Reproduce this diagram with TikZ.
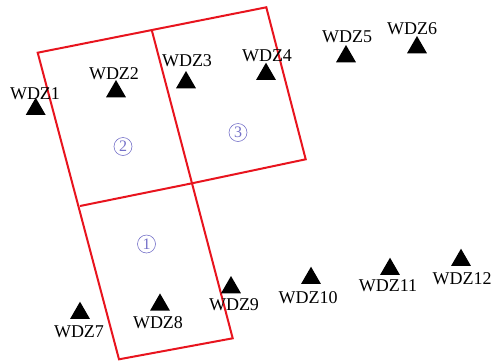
\documentclass[tikz,border=0pt]{standalone}
\usepackage{fontspec}
\setmainfont{Liberation Serif}
\usetikzlibrary{shapes.geometric}
\definecolor{cframe}{HTML}{E8141E}
\definecolor{cnum}{HTML}{7470C8}
\tikzset{
  every picture/.style={x=1pt, y=-1pt},
  station/.style={regular polygon, regular polygon sides=3, fill=black, inner sep=0pt, minimum size=23pt},
  stname/.style={anchor=base, inner sep=0pt, font=\fontsize{18}{18}\selectfont},
  frame/.style={draw=cframe, line width=2pt},
  blocknum/.style={circle, draw=cnum, text=cnum, line width=0.6pt, inner sep=0pt, minimum size=18pt, font=\fontsize{16}{16}\selectfont},
}

\begin{document}
\begin{tikzpicture}
  \useasboundingbox (0,0) rectangle (494,362);
  \coordinate (A) at (37.7,52.7);
  \coordinate (B) at (152,31);
  \coordinate (C) at (266.3,7.3);
  \coordinate (D) at (305.7,159.3);
  \coordinate (E) at (192,183.3);
  \coordinate (F) at (232.7,338.3);
  \coordinate (G) at (119,359.3);
  \coordinate (H) at (80,206);
  \draw[frame] (A) -- (C) -- (D) -- (E) -- (F) -- (G) -- cycle;
  \draw[frame] (B) -- (E);
  \draw[frame] (H) -- (E);
  \node[blocknum] (b1) at (146.5,244) {1};
  \node[blocknum] (b2) at (123,146.5) {2};
  \node[blocknum] (b3) at (238,132.5) {3};
  \node[station] (s1) at (35.7,109.2) {};
  \node[station] (s2) at (116,91.5) {};
  \node[station] (s3) at (186,82.5) {};
  \node[station] (s4) at (266,74.2) {};
  \node[station] (s5) at (346,56.5) {};
  \node[station] (s6) at (417,47.5) {};
  \node[station] (s7) at (80,313.2) {};
  \node[station] (s8) at (160,304.9) {};
  \node[station] (s9) at (231,287.5) {};
  \node[station] (s10) at (311,278.2) {};
  \node[station] (s11) at (390,269.2) {};
  \node[station] (s12) at (461,260.2) {};
  \node[stname] (l1) at (35,99) {WDZ1};
  \node[stname] (l2) at (114,79) {WDZ2};
  \node[stname] (l3) at (187,66) {WDZ3};
  \node[stname] (l4) at (267,61) {WDZ4};
  \node[stname] (l5) at (347,42) {WDZ5};
  \node[stname] (l6) at (412,34) {WDZ6};
  \node[stname] (l7) at (79,337) {WDZ7};
  \node[stname] (l8) at (158,328) {WDZ8};
  \node[stname] (l9) at (234,310) {WDZ9};
  \node[stname] (l10) at (308,303) {WDZ10};
  \node[stname] (l11) at (388,291) {WDZ11};
  \node[stname] (l12) at (462,284) {WDZ12};
\end{tikzpicture}
\end{document}
